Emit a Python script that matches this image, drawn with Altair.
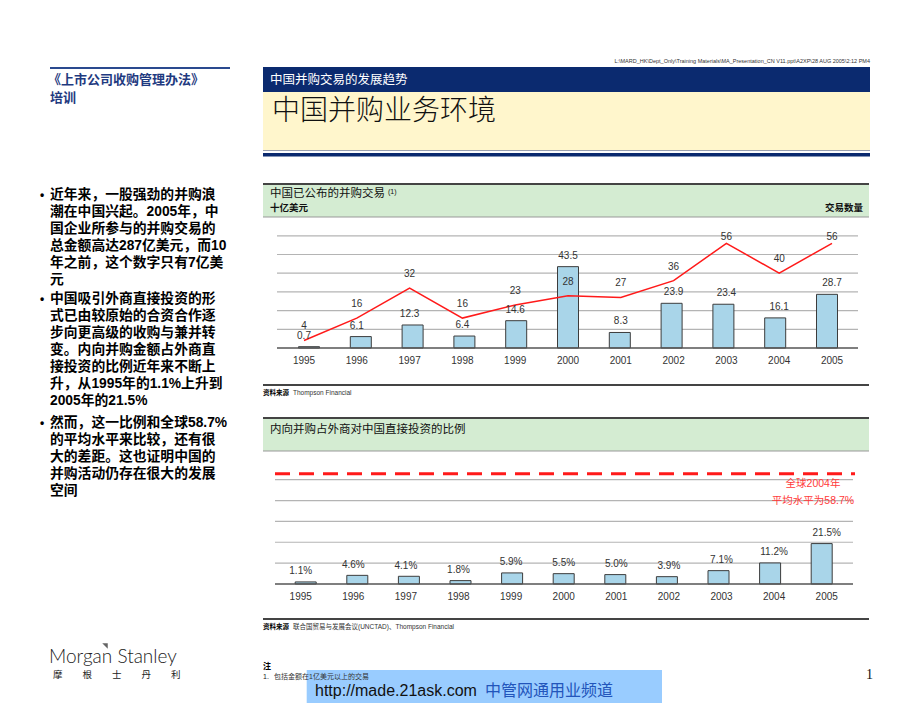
import altair as alt
import pandas as pd

# ---------------- data ----------------
years = [1995, 1996, 1997, 1998, 1999, 2000, 2001, 2002, 2003, 2004, 2005]
year_labels = [str(y) for y in years]
deal_value = [0.7, 6.1, 12.3, 6.4, 14.6, 43.5, 8.3, 23.9, 23.4, 16.1, 28.7]   # 十亿美元
deal_count = [4, 16, 32, 16, 23, 28, 27, 36, 56, 40, 56]                      # 交易数量
fdi_share = [1.1, 4.6, 4.1, 1.8, 5.9, 5.5, 5.0, 3.9, 7.1, 11.2, 21.5]        # %
global_avg = [58.7]
grid1 = [10, 20, 30, 40, 50, 60]
grid2 = [11.1, 22.2, 33.3, 44.4, 55.5]

bullet1 = ["近年来，一股强劲的并购浪", "潮在中国兴起。2005年，中", "国企业所参与的并购交易的",
           "总金额高达287亿美元，而10", "年之前，这个数字只有7亿美", "元"]
bullet2 = ["中国吸引外商直接投资的形", "式已由较原始的合资合作逐", "步向更高级的收购与兼并转",
           "变。内向并购金额占外商直", "接投资的比例近年来不断上", "升，从1995年的1.1%上升到", "2005年的21.5%"]
bullet3 = ["然而，这一比例和全球58.7%", "的平均水平来比较，还有很", "大的差距。这也证明中国的",
           "并购活动仍存在很大的发展", "空间"]
logo_cn = ["摩", "根", "士", "丹", "利"]

CJK = "Noto Sans CJK SC"
MIX = "Liberation Sans, Noto Sans CJK SC"
NAVY = "#0b2a6f"
GREEN = "#d4ecd2"
CREAM = "#fff6cc"
BARFILL = "#a9d5e9"
RED = "#ff1a1a"

one = pd.DataFrame({"a": [0]})
layers = []


def rect(x1, x2, y1, y2, color):
    layers.append(alt.Chart(one).mark_rect(color=color).encode(
        x=alt.value(x1), x2=alt.value(x2), y=alt.value(y1), y2=alt.value(y2)))


def hline(x1, x2, y, color, w=1.0, dash=None):
    kw = {"color": color, "strokeWidth": w}
    if dash:
        kw["strokeDash"] = dash
    layers.append(alt.Chart(one).mark_rule(**kw).encode(
        x=alt.value(x1), x2=alt.value(x2), y=alt.value(y)))


def txt(s, x, y, size=10, color="#000", weight="normal", align="left", font=MIX, baseline="middle"):
    layers.append(alt.Chart(one).mark_text(
        text=s, fontSize=size, color=color, fontWeight=weight, align=align,
        font=font, baseline=baseline).encode(x=alt.value(x), y=alt.value(y)))


# ---------------- header ----------------
txt("L:\\MARD_HK\\Dept_Only\\Training Materials\\MA_Presentation_CN V11.ppt\\A2XP\\28 AUG 2005\\2:12 PM4",
    862, 53, size=5.5, color="#333", align="right", font="Liberation Sans")
hline(42, 222, 60, "#2a4a8f", 2)
txt("《上市公司收购管理办法》", 40, 72, size=13, color="#1f3a80", weight="bold", font=CJK)
txt("培训", 42, 89.5, size=13, color="#1f3a80", weight="bold", font=CJK)

rect(255, 862, 59, 84, NAVY)
txt("中国并购交易的发展趋势", 262, 72, size=12.5, color="white", font=CJK)
rect(255, 862, 84, 142, CREAM)
txt("中国并购业务环境", 264, 104, size=28, color="#111", weight=300, font=CJK)
hline(255, 862, 142.5, "#9aa0b0", 1)
rect(255, 862, 145, 148.5, NAVY)

# ---------------- left bullets ----------------
for start, lines in [(187, bullet1), (291, bullet2), (415, bullet3)]:
    txt("•", 32, start, size=12, weight="bold", font=MIX)
    for i, line in enumerate(lines):
        txt(line, 42, start + i * 17, size=13.8, weight="bold", font=MIX)

# ---------------- chart 1 panel ----------------
hline(255, 861, 176, "#444", 2)
rect(255, 861, 177, 209, GREEN)
hline(255, 861, 209, "#999", 1)
txt("中国已公布的并购交易", 262, 186, size=11.5, color="#111", font=CJK)
txt("(1)", 380, 184, size=7, color="#111", font="Liberation Sans")
txt("十亿美元", 262, 200, size=9.5, color="#111", weight="bold", font=CJK)
txt("交易数量", 855, 200, size=9.5, color="#111", weight="bold", align="right", font=CJK)

df1 = pd.DataFrame({"year": years, "label": year_labels, "value": deal_value, "count": deal_count})
xs1 = alt.Scale(domain=[1995, 2005], range=[296, 824], nice=False)
ys1 = alt.Scale(domain=[0, 60], range=[340, 227.8], nice=False)
X1 = alt.X("year:Q", scale=xs1, axis=None)

g1 = pd.DataFrame({"g": grid1})
layers.append(alt.Chart(g1).mark_rule(color="#b4b4b4", strokeWidth=1.2).encode(
    y=alt.Y("g:Q", scale=ys1, axis=None), x=alt.value(269), x2=alt.value(850)))
layers.append(alt.Chart(df1).mark_bar(size=21, color=BARFILL, stroke="#3c3c3c", strokeWidth=1).encode(
    x=X1, y=alt.Y("value:Q", scale=ys1, axis=None)))
layers.append(alt.Chart(pd.DataFrame({"g": [0]})).mark_rule(color="#555", strokeWidth=1.5).encode(
    y=alt.Y("g:Q", scale=ys1, axis=None), x=alt.value(269), x2=alt.value(850)))
layers.append(alt.Chart(df1).mark_line(color=RED, strokeWidth=1.5).encode(
    x=X1, y=alt.Y("count:Q", scale=ys1, axis=None)))
layers.append(alt.Chart(df1).mark_text(fontSize=10, color="#333", dy=-11, font="Liberation Sans").encode(
    x=X1, y=alt.Y("value:Q", scale=ys1, axis=None), text=alt.Text("value:Q", format=".1f")))
layers.append(alt.Chart(df1).transform_calculate(ly="min(datum.count + 7.5, 59.6)").mark_text(
    fontSize=10, color="#333", font="Liberation Sans").encode(
    x=X1, y=alt.Y("ly:Q", scale=ys1, axis=None), text=alt.Text("count:Q", format="d")))
layers.append(alt.Chart(df1).mark_text(fontSize=10, color="#333", font="Liberation Sans").encode(
    x=X1, y=alt.value(353), text="label:N"))

hline(255, 861, 377, "#444", 2)
txt("资料来源", 255, 385, size=6.5, weight="bold", font=CJK)
txt("Thompson Financial", 285, 385, size=6.5, color="#333", font="Liberation Sans")

# ---------------- chart 2 panel ----------------
hline(255, 861, 410, "#444", 2)
rect(255, 861, 411, 443, GREEN)
hline(255, 861, 443, "#999", 1)
txt("内向并购占外商对中国直接投资的比例", 262, 422, size=11.5, color="#111", font=CJK)

df2 = pd.DataFrame({"year": years, "label": year_labels, "share": fdi_share})
xs2 = alt.Scale(domain=[1995, 2005], range=[292.7, 818.7], nice=False)
ys2 = alt.Scale(domain=[0, 60], range=[576, 463.2], nice=False)
X2 = alt.X("year:Q", scale=xs2, axis=None)

g2 = pd.DataFrame({"g": grid2})
layers.append(alt.Chart(g2).mark_rule(color="#b4b4b4", strokeWidth=1.2).encode(
    y=alt.Y("g:Q", scale=ys2, axis=None), x=alt.value(267), x2=alt.value(845)))
layers.append(alt.Chart(pd.DataFrame({"g": global_avg})).mark_rule(
    color=RED, strokeWidth=3, strokeDash=[15, 9]).encode(
    y=alt.Y("g:Q", scale=ys2, axis=None), x=alt.value(267), x2=alt.value(847)))
layers.append(alt.Chart(df2).mark_bar(size=21, color=BARFILL, stroke="#3c3c3c", strokeWidth=1).encode(
    x=X2, y=alt.Y("share:Q", scale=ys2, axis=None)))
layers.append(alt.Chart(pd.DataFrame({"g": [0]})).mark_rule(color="#555", strokeWidth=1.5).encode(
    y=alt.Y("g:Q", scale=ys2, axis=None), x=alt.value(267), x2=alt.value(845)))
layers.append(alt.Chart(df2).transform_calculate(pl="format(datum.share, '.1f') + '%'").mark_text(
    fontSize=10, color="#333", dy=-10.5, font="Liberation Sans").encode(
    x=X2, y=alt.Y("share:Q", scale=ys2, axis=None), text="pl:N"))
layers.append(alt.Chart(df2).mark_text(fontSize=10, color="#333", font="Liberation Sans").encode(
    x=X2, y=alt.value(589), text="label:N"))
txt("全球2004年", 805, 476, size=10.5, color="#ff3a3a", align="center", font=MIX)
txt("平均水平为58.7%", 805, 493, size=10.5, color="#ff3a3a", align="center", font=MIX)

hline(255, 861, 611, "#444", 2)
txt("资料来源", 255, 619, size=6.5, weight="bold", font=CJK)
txt("联合国贸易与发展会议(UNCTAD)、Thompson Financial", 285, 619, size=6.5, color="#333", font=MIX)

# ---------------- footer ----------------
txt("Morgan Stanley", 41, 655, size=19, color="#222", weight=300, font="Lato", baseline="alphabetic")
for i, ch in enumerate(logo_cn):
    txt(ch, 45 + i * 29.5, 667, size=9.5, color="#222", font=CJK)
layers.append(alt.Chart(one).mark_point(shape="M -1 -1 L 1 -1 L 1 1 Z", size=30, color="#222",
                                        filled=True).encode(x=alt.value(97), y=alt.value(638)))

rect(298.7, 654, 662, 701, "#99ccff")
txt("注", 255, 659, size=8, weight="bold", font=CJK)
txt("1.", 255, 669, size=7, color="#222", font="Liberation Sans")
txt("包括金额在1亿美元以上的交易", 266, 669, size=7, color="#333", font=MIX)
txt("http://made.21ask.com", 307, 683, size=16, color="#111", font="Liberation Sans")
txt("中管网通用业频道", 477, 683, size=16, color="#2255bb", font=CJK)
txt("1", 858, 667, size=14, color="#111", font="Liberation Serif")

chart = alt.layer(*layers).resolve_scale(x="independent", y="independent").properties(
    width=904, height=695, autosize=alt.AutoSizeParams(type="none"), padding=0,
    background="white"
).configure_view(stroke=None)

chart.save("out.html", embed_options={"renderer": "svg", "actions": False})
